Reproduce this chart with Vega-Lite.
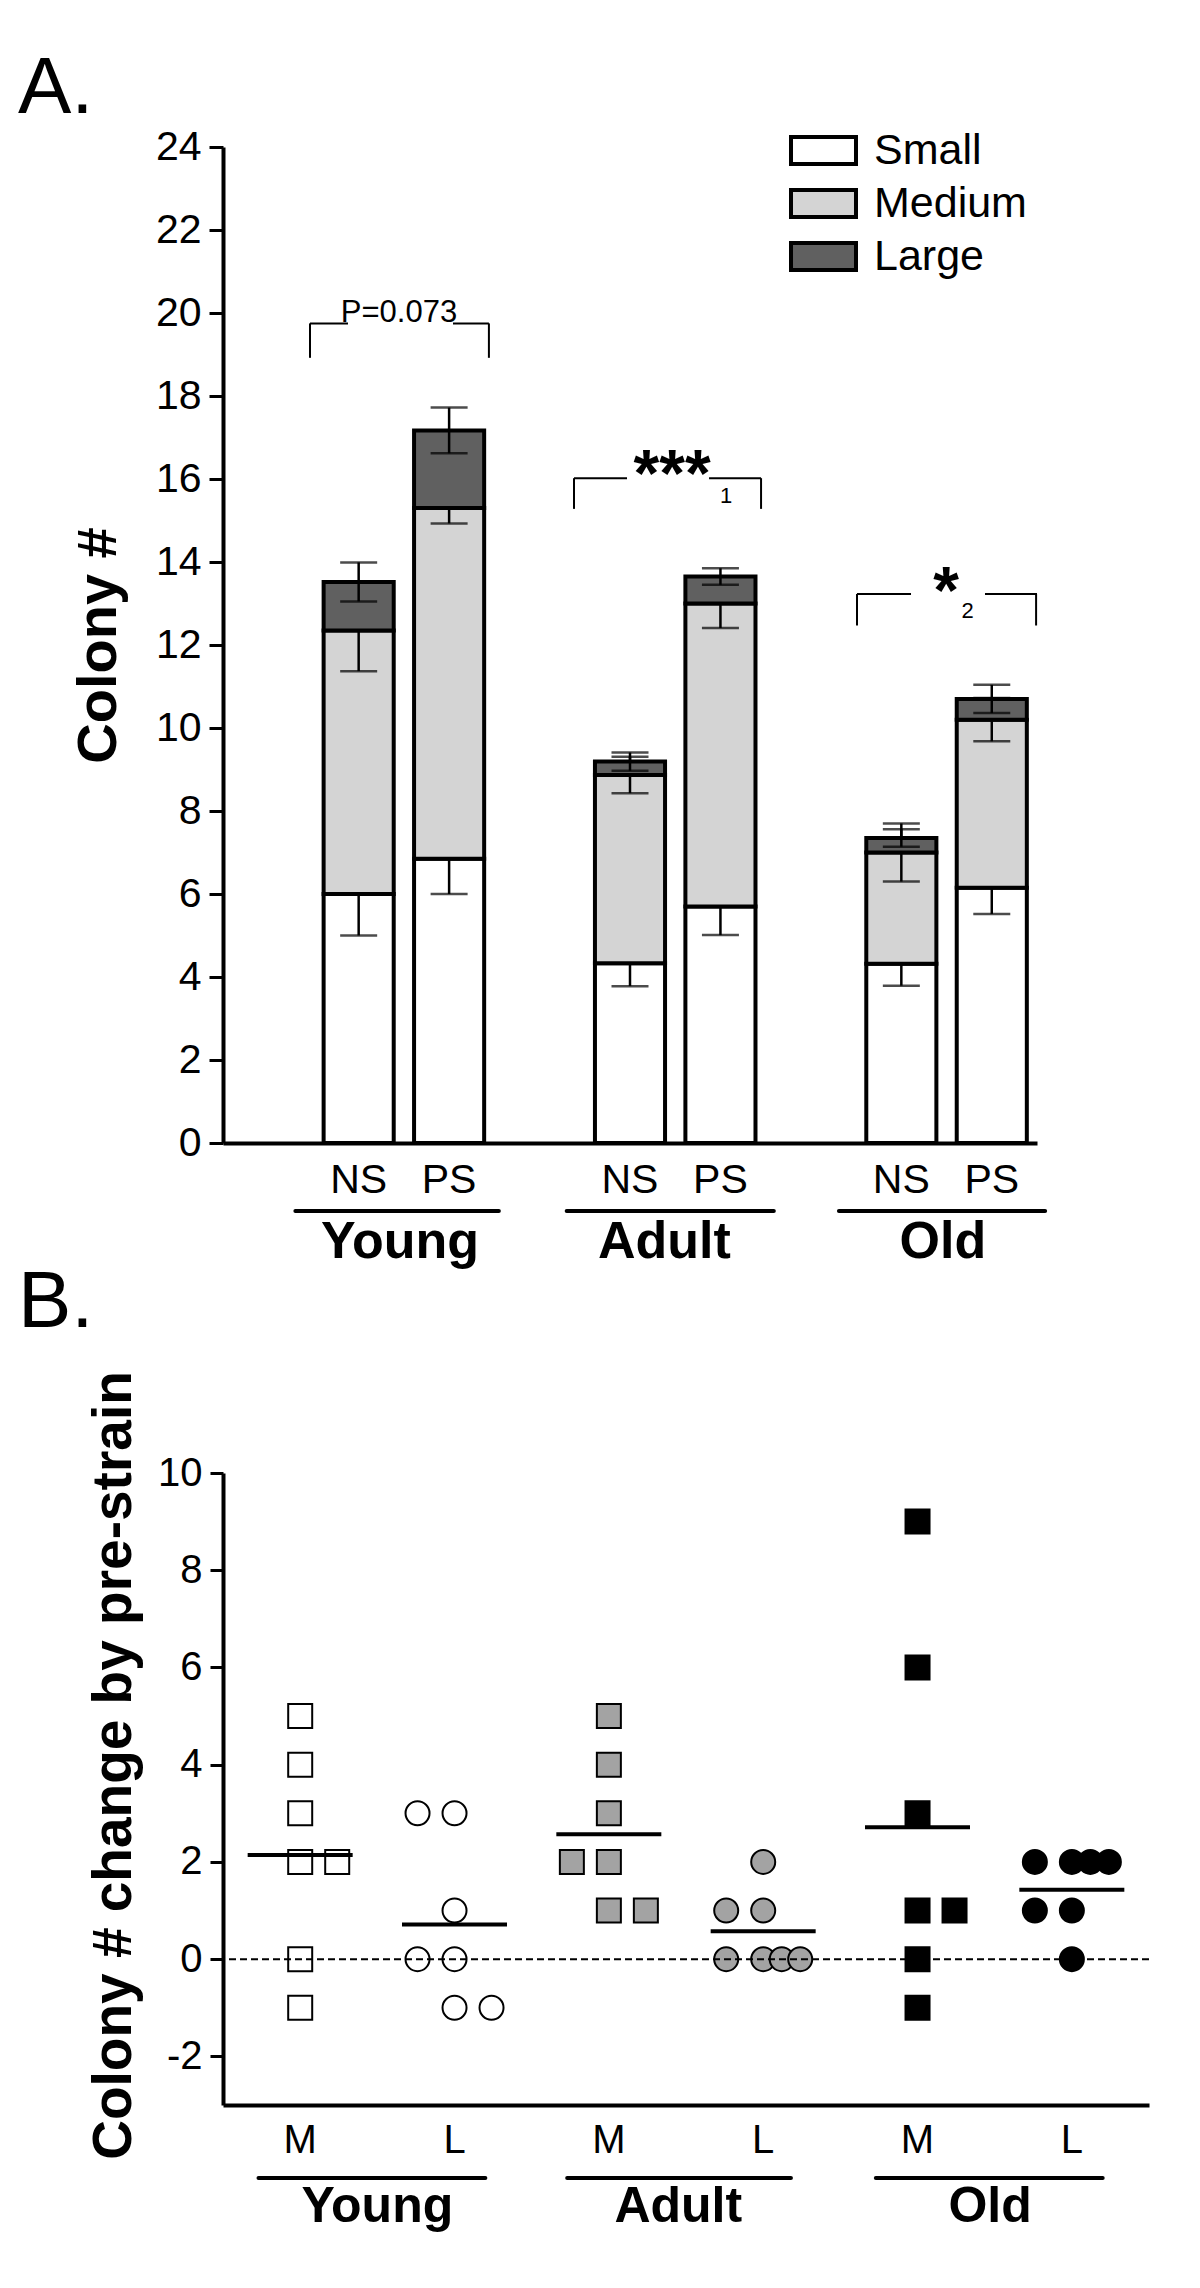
{
  "$schema": "https://vega.github.io/schema/vega-lite/v6.json",
  "padding": {"left": 18, "top": 49, "right": 5, "bottom": 5},
  "spacing": -6,
  "resolve": {"scale": {"fill": "independent", "shape": "independent", "xOffset": "independent"}, "legend": {"fill": "independent"}},
  "config": {
    "view": {"stroke": null},
    "font": "Liberation Sans, Arial, sans-serif",
    "axis": {"domainColor": "black", "tickColor": "black", "labelColor": "black", "titleColor": "black", "grid": false, "labelFont": "Liberation Sans, Arial, sans-serif", "titleFont": "Liberation Sans, Arial, sans-serif"},
    "text": {"font": "Liberation Sans, Arial, sans-serif", "color": "black"},
    "legend": {"labelFont": "Liberation Sans, Arial, sans-serif", "labelColor": "black"},
    "title": {"font": "Liberation Sans, Arial, sans-serif", "color": "black"}
  },
  "vconcat": [
    {
      "width": 814,
      "height": 996,
      "title": {"text": "A.", "anchor": "start", "frame": "group", "dx": -205, "fontSize": 80, "fontWeight": "normal", "baseline": "alphabetic", "offset": -67},
      "resolve": {"scale": {"x": "independent"}},
      "layer": [
        {
          "data": {"values": [
            {"bar": "Young NS", "size": "Small", "order": 1, "count": 6.0, "err": 1.0},
            {"bar": "Young NS", "size": "Medium", "order": 2, "count": 6.35, "err": 0.98},
            {"bar": "Young NS", "size": "Large", "order": 3, "count": 1.17, "err": 0.47},
            {"bar": "Young PS", "size": "Small", "order": 1, "count": 6.85, "err": 0.85},
            {"bar": "Young PS", "size": "Medium", "order": 2, "count": 8.45, "err": 0.37},
            {"bar": "Young PS", "size": "Large", "order": 3, "count": 1.87, "err": 0.55},
            {"bar": "Adult NS", "size": "Small", "order": 1, "count": 4.33, "err": 0.55},
            {"bar": "Adult NS", "size": "Medium", "order": 2, "count": 4.54, "err": 0.44},
            {"bar": "Adult NS", "size": "Large", "order": 3, "count": 0.32, "err": 0.22},
            {"bar": "Adult PS", "size": "Small", "order": 1, "count": 5.7, "err": 0.69},
            {"bar": "Adult PS", "size": "Medium", "order": 2, "count": 7.3, "err": 0.59},
            {"bar": "Adult PS", "size": "Large", "order": 3, "count": 0.65, "err": 0.2},
            {"bar": "Old NS", "size": "Small", "order": 1, "count": 4.32, "err": 0.53},
            {"bar": "Old NS", "size": "Medium", "order": 2, "count": 2.68, "err": 0.7},
            {"bar": "Old NS", "size": "Large", "order": 3, "count": 0.35, "err": 0.21},
            {"bar": "Old PS", "size": "Small", "order": 1, "count": 6.15, "err": 0.63},
            {"bar": "Old PS", "size": "Medium", "order": 2, "count": 4.05, "err": 0.52},
            {"bar": "Old PS", "size": "Large", "order": 3, "count": 0.5, "err": 0.34}
          ]},
          "transform": [
            {"stack": "count", "groupby": ["bar"], "sort": [{"field": "order", "order": "ascending"}], "as": ["v0", "v1"]}
          ],
          "layer": [
            {
              "transform": [{"filter": "datum.size === 'Small'"}],
              "mark": {"type": "bar", "stroke": "black", "strokeWidth": 4},
              "encoding": {
                "x": {"field": "bar", "type": "nominal", "sort": null, "title": null,
                  "scale": {"type": "band", "domain": ["gap1", "Young NS", "Young PS", "gap2", "Adult NS", "Adult PS", "gap3", "Old NS", "Old PS"], "paddingInner": 0.225, "paddingOuter": 0.1125},
                  "axis": {"orient": "bottom", "ticks": false, "domainWidth": 4, "labelFontSize": 41, "labelPadding": 17, "labelAngle": 0, "title": null,
                    "labelExpr": "indexof(datum.value, ' ') > 0 ? split(datum.value, ' ')[1] : ''"}},
                "y": {"field": "v0", "type": "quantitative", "title": "Colony #",
                  "scale": {"domain": [0, 24]},
                  "axis": {"title": "Colony #", "values": [0, 2, 4, 6, 8, 10, 12, 14, 16, 18, 20, 22, 24], "labelFontSize": 41, "tickSize": 14, "tickWidth": 3, "domainWidth": 4, "labelPadding": 8, "titleFontSize": 56, "titleFontWeight": "bold", "titlePadding": 28}},
                "y2": {"field": "v1"},
                "fill": {"field": "size", "type": "nominal",
                  "scale": {"domain": ["Small", "Medium", "Large"], "range": ["#ffffff", "#d4d4d4", "#606060"]},
                  "legend": {"title": null, "orient": "none", "legendX": 579, "legendY": -18, "direction": "vertical", "padding": 0,
                    "symbolType": "M-2,-0.83H2V0.83H-2Z", "symbolSize": 1056, "symbolStrokeColor": "black", "symbolStrokeWidth": 4, "symbolOpacity": 1,
                    "labelFontSize": 43, "labelOffset": 29, "rowPadding": 9, "labelColor": "black"}}
              }
            },
            {
              "transform": [{"filter": "datum.size === 'Small'"}],
              "mark": {"type": "errorbar", "ticks": {"size": 37, "thickness": 2.5, "color": "black"}, "rule": {"strokeWidth": 2.5, "color": "black"}},
              "encoding": {
                "x": {"field": "bar", "type": "nominal", "sort": null, "title": null},
                "y": {"field": "v1", "type": "quantitative", "title": "Colony #", "scale": {"domain": [0, 24]}},
                "yError": {"field": "err"}
              }
            },
            {
              "transform": [{"filter": "datum.size === 'Medium'"}],
              "mark": {"type": "bar", "stroke": "black", "strokeWidth": 4},
              "encoding": {
                "x": {"field": "bar", "type": "nominal", "sort": null, "title": null},
                "y": {"field": "v0", "type": "quantitative", "title": "Colony #", "scale": {"domain": [0, 24]}},
                "y2": {"field": "v1"},
                "fill": {"field": "size", "type": "nominal"}
              }
            },
            {
              "transform": [{"filter": "datum.size === 'Medium'"}],
              "mark": {"type": "errorbar", "ticks": {"size": 37, "thickness": 2.5, "color": "black"}, "rule": {"strokeWidth": 2.5, "color": "black"}},
              "encoding": {
                "x": {"field": "bar", "type": "nominal", "sort": null, "title": null},
                "y": {"field": "v1", "type": "quantitative", "title": "Colony #", "scale": {"domain": [0, 24]}},
                "yError": {"field": "err"}
              }
            },
            {
              "transform": [{"filter": "datum.size === 'Large'"}],
              "mark": {"type": "bar", "stroke": "black", "strokeWidth": 4},
              "encoding": {
                "x": {"field": "bar", "type": "nominal", "sort": null, "title": null},
                "y": {"field": "v0", "type": "quantitative", "title": "Colony #", "scale": {"domain": [0, 24]}},
                "y2": {"field": "v1"},
                "fill": {"field": "size", "type": "nominal"}
              }
            },
            {
              "transform": [{"filter": "datum.size === 'Large'"}],
              "mark": {"type": "errorbar", "ticks": {"size": 37, "thickness": 2.5, "color": "black"}, "rule": {"strokeWidth": 2.5, "color": "black"}},
              "encoding": {
                "x": {"field": "bar", "type": "nominal", "sort": null, "title": null},
                "y": {"field": "v1", "type": "quantitative", "title": "Colony #", "scale": {"domain": [0, 24]}},
                "yError": {"field": "err"}
              }
            }
          ]
        },
        {
          "data": {"values": [{}]},
          "layer": [
            {"mark": {"type": "rule", "strokeWidth": 2, "color": "black"}, "encoding": {"x": {"datum": 0.962, "type": "quantitative", "scale": {"domain": [0, 9], "nice": false, "zero": false}, "axis": null}, "x2": {"datum": 1.382}, "y": {"datum": 19.75, "type": "quantitative", "scale": {"domain": [0, 24]}}}},
            {"mark": {"type": "rule", "strokeWidth": 2, "color": "black"}, "encoding": {"x": {"datum": 2.543, "type": "quantitative", "scale": {"domain": [0, 9], "nice": false, "zero": false}, "axis": null}, "x2": {"datum": 2.94}, "y": {"datum": 19.75, "type": "quantitative", "scale": {"domain": [0, 24]}}}},
            {"mark": {"type": "rule", "strokeWidth": 2, "color": "black"}, "encoding": {"x": {"datum": 0.962, "type": "quantitative", "scale": {"domain": [0, 9], "nice": false, "zero": false}, "axis": null}, "y": {"datum": 19.75, "type": "quantitative", "scale": {"domain": [0, 24]}}, "y2": {"datum": 18.92}}},
            {"mark": {"type": "rule", "strokeWidth": 2, "color": "black"}, "encoding": {"x": {"datum": 2.94, "type": "quantitative", "scale": {"domain": [0, 9], "nice": false, "zero": false}, "axis": null}, "y": {"datum": 19.75, "type": "quantitative", "scale": {"domain": [0, 24]}}, "y2": {"datum": 18.92}}},
            {"mark": {"type": "text", "text": "P=0.073", "fontSize": 31, "align": "center", "baseline": "alphabetic"}, "encoding": {"x": {"datum": 1.946, "type": "quantitative", "scale": {"domain": [0, 9], "nice": false, "zero": false}, "axis": null}, "y": {"datum": 19.78, "type": "quantitative", "scale": {"domain": [0, 24]}}}},

            {"mark": {"type": "rule", "strokeWidth": 2, "color": "black"}, "encoding": {"x": {"datum": 3.881, "type": "quantitative", "scale": {"domain": [0, 9], "nice": false, "zero": false}, "axis": null}, "x2": {"datum": 4.467}, "y": {"datum": 16.02, "type": "quantitative", "scale": {"domain": [0, 24]}}}},
            {"mark": {"type": "rule", "strokeWidth": 2, "color": "black"}, "encoding": {"x": {"datum": 5.374, "type": "quantitative", "scale": {"domain": [0, 9], "nice": false, "zero": false}, "axis": null}, "x2": {"datum": 5.949}, "y": {"datum": 16.02, "type": "quantitative", "scale": {"domain": [0, 24]}}}},
            {"mark": {"type": "rule", "strokeWidth": 2, "color": "black"}, "encoding": {"x": {"datum": 3.881, "type": "quantitative", "scale": {"domain": [0, 9], "nice": false, "zero": false}, "axis": null}, "y": {"datum": 16.02, "type": "quantitative", "scale": {"domain": [0, 24]}}, "y2": {"datum": 15.28}}},
            {"mark": {"type": "rule", "strokeWidth": 2, "color": "black"}, "encoding": {"x": {"datum": 5.949, "type": "quantitative", "scale": {"domain": [0, 9], "nice": false, "zero": false}, "axis": null}, "y": {"datum": 16.02, "type": "quantitative", "scale": {"domain": [0, 24]}}, "y2": {"datum": 15.28}}},
            {"mark": {"type": "text", "text": "***", "fontSize": 66, "fontWeight": "bold", "align": "center", "baseline": "alphabetic"}, "encoding": {"x": {"datum": 4.965, "type": "quantitative", "scale": {"domain": [0, 9], "nice": false, "zero": false}, "axis": null}, "y": {"datum": 15.59, "type": "quantitative", "scale": {"domain": [0, 24]}}}},
            {"mark": {"type": "text", "text": "1", "fontSize": 22, "align": "center", "baseline": "alphabetic"}, "encoding": {"x": {"datum": 5.562, "type": "quantitative", "scale": {"domain": [0, 9], "nice": false, "zero": false}, "axis": null}, "y": {"datum": 15.43, "type": "quantitative", "scale": {"domain": [0, 24]}}}},

            {"mark": {"type": "rule", "strokeWidth": 2, "color": "black"}, "encoding": {"x": {"datum": 7.01, "type": "quantitative", "scale": {"domain": [0, 9], "nice": false, "zero": false}, "axis": null}, "x2": {"datum": 7.607}, "y": {"datum": 13.23, "type": "quantitative", "scale": {"domain": [0, 24]}}}},
            {"mark": {"type": "rule", "strokeWidth": 2, "color": "black"}, "encoding": {"x": {"datum": 8.425, "type": "quantitative", "scale": {"domain": [0, 9], "nice": false, "zero": false}, "axis": null}, "x2": {"datum": 9.0}, "y": {"datum": 13.23, "type": "quantitative", "scale": {"domain": [0, 24]}}}},
            {"mark": {"type": "rule", "strokeWidth": 2, "color": "black"}, "encoding": {"x": {"datum": 7.01, "type": "quantitative", "scale": {"domain": [0, 9], "nice": false, "zero": false}, "axis": null}, "y": {"datum": 13.23, "type": "quantitative", "scale": {"domain": [0, 24]}}, "y2": {"datum": 12.47}}},
            {"mark": {"type": "rule", "strokeWidth": 2, "color": "black"}, "encoding": {"x": {"datum": 8.99, "type": "quantitative", "scale": {"domain": [0, 9], "nice": false, "zero": false}, "axis": null}, "y": {"datum": 13.23, "type": "quantitative", "scale": {"domain": [0, 24]}}, "y2": {"datum": 12.47}}},
            {"mark": {"type": "text", "text": "*", "fontSize": 66, "fontWeight": "bold", "align": "center", "baseline": "alphabetic"}, "encoding": {"x": {"datum": 7.994, "type": "quantitative", "scale": {"domain": [0, 9], "nice": false, "zero": false}, "axis": null}, "y": {"datum": 12.77, "type": "quantitative", "scale": {"domain": [0, 24]}}}},
            {"mark": {"type": "text", "text": "2", "fontSize": 22, "align": "center", "baseline": "alphabetic"}, "encoding": {"x": {"datum": 8.232, "type": "quantitative", "scale": {"domain": [0, 9], "nice": false, "zero": false}, "axis": null}, "y": {"datum": 12.64, "type": "quantitative", "scale": {"domain": [0, 24]}}}},

            {"mark": {"type": "rule", "strokeWidth": 4, "color": "black", "strokeCap": "round"}, "encoding": {"x": {"datum": 0.8, "type": "quantitative", "scale": {"domain": [0, 9], "nice": false, "zero": false}, "axis": null}, "x2": {"datum": 3.05}, "y": {"datum": -1.64, "type": "quantitative", "scale": {"domain": [0, 24]}}}},
            {"mark": {"type": "rule", "strokeWidth": 4, "color": "black", "strokeCap": "round"}, "encoding": {"x": {"datum": 3.8, "type": "quantitative", "scale": {"domain": [0, 9], "nice": false, "zero": false}, "axis": null}, "x2": {"datum": 6.09}, "y": {"datum": -1.64, "type": "quantitative", "scale": {"domain": [0, 24]}}}},
            {"mark": {"type": "rule", "strokeWidth": 4, "color": "black", "strokeCap": "round"}, "encoding": {"x": {"datum": 6.81, "type": "quantitative", "scale": {"domain": [0, 9], "nice": false, "zero": false}, "axis": null}, "x2": {"datum": 9.09}, "y": {"datum": -1.64, "type": "quantitative", "scale": {"domain": [0, 24]}}}},
            {"mark": {"type": "text", "text": "Young", "fontSize": 52, "fontWeight": "bold", "align": "center", "baseline": "alphabetic"}, "encoding": {"x": {"datum": 1.957, "type": "quantitative", "scale": {"domain": [0, 9], "nice": false, "zero": false}, "axis": null}, "y": {"datum": -2.77, "type": "quantitative", "scale": {"domain": [0, 24]}}}},
            {"mark": {"type": "text", "text": "Adult", "fontSize": 52, "fontWeight": "bold", "align": "center", "baseline": "alphabetic"}, "encoding": {"x": {"datum": 4.88, "type": "quantitative", "scale": {"domain": [0, 9], "nice": false, "zero": false}, "axis": null}, "y": {"datum": -2.77, "type": "quantitative", "scale": {"domain": [0, 24]}}}},
            {"mark": {"type": "text", "text": "Old", "fontSize": 52, "fontWeight": "bold", "align": "center", "baseline": "alphabetic"}, "encoding": {"x": {"datum": 7.96, "type": "quantitative", "scale": {"domain": [0, 9], "nice": false, "zero": false}, "axis": null}, "y": {"datum": -2.77, "type": "quantitative", "scale": {"domain": [0, 24]}}}}
          ]
        }
      ]
    },
    {
      "width": 926,
      "height": 632,
      "title": {"text": "B.", "anchor": "start", "frame": "group", "dx": -205, "fontSize": 80, "fontWeight": "normal", "baseline": "alphabetic", "offset": -36},
      "resolve": {"scale": {"x": "independent"}},
      "layer": [
        {
          "data": {"values": [
            {"age": "Young", "meas": "M", "cat": "Young M", "value": 5, "lane": 0},
            {"age": "Young", "meas": "M", "cat": "Young M", "value": 4, "lane": 0},
            {"age": "Young", "meas": "M", "cat": "Young M", "value": 3, "lane": 0},
            {"age": "Young", "meas": "M", "cat": "Young M", "value": 2, "lane": 0},
            {"age": "Young", "meas": "M", "cat": "Young M", "value": 2, "lane": 1},
            {"age": "Young", "meas": "M", "cat": "Young M", "value": 0, "lane": 0},
            {"age": "Young", "meas": "M", "cat": "Young M", "value": -1, "lane": 0},
            {"age": "Young", "meas": "L", "cat": "Young L", "value": 3, "lane": -1},
            {"age": "Young", "meas": "L", "cat": "Young L", "value": 3, "lane": 0},
            {"age": "Young", "meas": "L", "cat": "Young L", "value": 1, "lane": 0},
            {"age": "Young", "meas": "L", "cat": "Young L", "value": 0, "lane": -1},
            {"age": "Young", "meas": "L", "cat": "Young L", "value": 0, "lane": 0},
            {"age": "Young", "meas": "L", "cat": "Young L", "value": -1, "lane": 0},
            {"age": "Young", "meas": "L", "cat": "Young L", "value": -1, "lane": 1},
            {"age": "Adult", "meas": "M", "cat": "Adult M", "value": 5, "lane": 0},
            {"age": "Adult", "meas": "M", "cat": "Adult M", "value": 4, "lane": 0},
            {"age": "Adult", "meas": "M", "cat": "Adult M", "value": 3, "lane": 0},
            {"age": "Adult", "meas": "M", "cat": "Adult M", "value": 2, "lane": -1},
            {"age": "Adult", "meas": "M", "cat": "Adult M", "value": 2, "lane": 0},
            {"age": "Adult", "meas": "M", "cat": "Adult M", "value": 1, "lane": 0},
            {"age": "Adult", "meas": "M", "cat": "Adult M", "value": 1, "lane": 1},
            {"age": "Adult", "meas": "L", "cat": "Adult L", "value": 2, "lane": 0},
            {"age": "Adult", "meas": "L", "cat": "Adult L", "value": 1, "lane": -1},
            {"age": "Adult", "meas": "L", "cat": "Adult L", "value": 1, "lane": 0},
            {"age": "Adult", "meas": "L", "cat": "Adult L", "value": 0, "lane": -1},
            {"age": "Adult", "meas": "L", "cat": "Adult L", "value": 0, "lane": 0},
            {"age": "Adult", "meas": "L", "cat": "Adult L", "value": 0, "lane": 0.5},
            {"age": "Adult", "meas": "L", "cat": "Adult L", "value": 0, "lane": 1},
            {"age": "Old", "meas": "M", "cat": "Old M", "value": 9, "lane": 0},
            {"age": "Old", "meas": "M", "cat": "Old M", "value": 6, "lane": 0},
            {"age": "Old", "meas": "M", "cat": "Old M", "value": 3, "lane": 0},
            {"age": "Old", "meas": "M", "cat": "Old M", "value": 1, "lane": 0},
            {"age": "Old", "meas": "M", "cat": "Old M", "value": 1, "lane": 1},
            {"age": "Old", "meas": "M", "cat": "Old M", "value": 0, "lane": 0},
            {"age": "Old", "meas": "M", "cat": "Old M", "value": -1, "lane": 0},
            {"age": "Old", "meas": "L", "cat": "Old L", "value": 2, "lane": -1},
            {"age": "Old", "meas": "L", "cat": "Old L", "value": 2, "lane": 0},
            {"age": "Old", "meas": "L", "cat": "Old L", "value": 2, "lane": 0.5},
            {"age": "Old", "meas": "L", "cat": "Old L", "value": 2, "lane": 1},
            {"age": "Old", "meas": "L", "cat": "Old L", "value": 1, "lane": -1},
            {"age": "Old", "meas": "L", "cat": "Old L", "value": 1, "lane": 0},
            {"age": "Old", "meas": "L", "cat": "Old L", "value": 0, "lane": 0}
          ]},
          "layer": [
            {
              "mark": {"type": "point", "filled": true, "size": 576, "stroke": "black", "strokeWidth": 2, "opacity": 1},
              "encoding": {
                "x": {"field": "cat", "type": "nominal", "sort": null, "title": null,
                  "scale": {"type": "band", "domain": ["Young M", "Young L", "Adult M", "Adult L", "Old M", "Old L"], "paddingInner": 0, "paddingOuter": 0},
                  "axis": {"orient": "bottom", "ticks": false, "domainWidth": 4, "labelFontSize": 40, "labelPadding": 15, "labelAngle": 0, "title": null,
                    "labelExpr": "split(datum.value, ' ')[1]"}},
                "xOffset": {"field": "lane", "type": "quantitative", "scale": {"domain": [-1, 1], "range": [40.2, 114.2]}},
                "y": {"field": "value", "type": "quantitative", "title": "Colony # change by pre-strain",
                  "scale": {"domain": [-3, 10], "nice": false, "zero": false},
                  "axis": {"title": "Colony # change by pre-strain", "values": [-2, 0, 2, 4, 6, 8, 10], "labelExpr": "'' + datum.value", "labelFontSize": 40, "tickSize": 13, "tickWidth": 3, "domainWidth": 4, "labelPadding": 8, "titleFontSize": 55, "titleFontWeight": "bold", "titlePadding": 15, "titleY": 292}},
                "shape": {"field": "meas", "type": "nominal", "scale": {"domain": ["M", "L"], "range": ["square", "circle"]}, "legend": null},
                "fill": {"field": "age", "type": "nominal", "scale": {"domain": ["Young", "Adult", "Old"], "range": ["#ffffff", "#a3a3a3", "#000000"]}, "legend": null}
              }
            },
            {
              "mark": {"type": "tick", "size": 105, "thickness": 4, "color": "black", "orient": "horizontal"},
              "encoding": {
                "x": {"field": "cat", "type": "nominal", "sort": null, "title": null},
                "y": {"aggregate": "mean", "field": "value", "type": "quantitative", "title": "Colony # change by pre-strain", "scale": {"domain": [-3, 10], "nice": false, "zero": false}}
              }
            }
          ]
        },
        {
          "data": {"values": [{}]},
          "layer": [
            {"mark": {"type": "rule", "strokeWidth": 2, "strokeDash": [7, 4], "color": "black"}, "encoding": {"y": {"datum": 0, "type": "quantitative", "scale": {"domain": [-3, 10], "nice": false, "zero": false}}}},
            {"mark": {"type": "rule", "strokeWidth": 4, "color": "black", "strokeCap": "round"}, "encoding": {"x": {"datum": 0.23, "type": "quantitative", "scale": {"domain": [0, 6], "nice": false, "zero": false}, "axis": null}, "x2": {"datum": 1.7}, "y": {"datum": -4.5, "type": "quantitative", "scale": {"domain": [-3, 10], "nice": false, "zero": false}}}},
            {"mark": {"type": "rule", "strokeWidth": 4, "color": "black", "strokeCap": "round"}, "encoding": {"x": {"datum": 2.23, "type": "quantitative", "scale": {"domain": [0, 6], "nice": false, "zero": false}, "axis": null}, "x2": {"datum": 3.68}, "y": {"datum": -4.5, "type": "quantitative", "scale": {"domain": [-3, 10], "nice": false, "zero": false}}}},
            {"mark": {"type": "rule", "strokeWidth": 4, "color": "black", "strokeCap": "round"}, "encoding": {"x": {"datum": 4.23, "type": "quantitative", "scale": {"domain": [0, 6], "nice": false, "zero": false}, "axis": null}, "x2": {"datum": 5.7}, "y": {"datum": -4.5, "type": "quantitative", "scale": {"domain": [-3, 10], "nice": false, "zero": false}}}},
            {"mark": {"type": "text", "text": "Young", "fontSize": 50, "fontWeight": "bold", "align": "center", "baseline": "alphabetic"}, "encoding": {"x": {"datum": 1.0, "type": "quantitative", "scale": {"domain": [0, 6], "nice": false, "zero": false}, "axis": null}, "y": {"datum": -5.41, "type": "quantitative", "scale": {"domain": [-3, 10], "nice": false, "zero": false}}}},
            {"mark": {"type": "text", "text": "Adult", "fontSize": 50, "fontWeight": "bold", "align": "center", "baseline": "alphabetic"}, "encoding": {"x": {"datum": 2.95, "type": "quantitative", "scale": {"domain": [0, 6], "nice": false, "zero": false}, "axis": null}, "y": {"datum": -5.41, "type": "quantitative", "scale": {"domain": [-3, 10], "nice": false, "zero": false}}}},
            {"mark": {"type": "text", "text": "Old", "fontSize": 50, "fontWeight": "bold", "align": "center", "baseline": "alphabetic"}, "encoding": {"x": {"datum": 4.97, "type": "quantitative", "scale": {"domain": [0, 6], "nice": false, "zero": false}, "axis": null}, "y": {"datum": -5.41, "type": "quantitative", "scale": {"domain": [-3, 10], "nice": false, "zero": false}}}}
          ]
        }
      ]
    }
  ]
}
